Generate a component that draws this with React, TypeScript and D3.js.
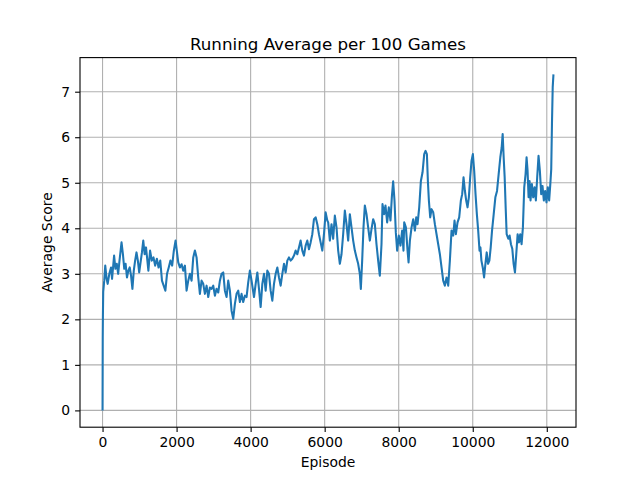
import React, { useEffect, useRef } from "react";
import * as d3 from "d3";

// running average, episode by episode
const episodes = [
  0, 5, 10, 18, 46, 73, 110, 138, 183, 229, 257, 312, 348, 385, 422, 458, 513, 550, 587, 623, 660,
  697, 734, 770, 807, 844, 880, 917, 954, 990, 1027, 1064, 1100, 1137, 1174, 1211, 1238, 1284, 1330,
  1376, 1421, 1467, 1513, 1559, 1605, 1651, 1697, 1742, 1788, 1834, 1880, 1926, 1972,
  2045, 2090, 2135, 2180, 2225, 2270, 2315, 2360, 2405, 2450, 2495, 2540, 2585, 2630, 2675, 2720,
  2765, 2810, 2855, 2900, 2945, 2990, 3035, 3080, 3125, 3170, 3215, 3260, 3305, 3350, 3395, 3440,
  3485, 3530, 3575, 3620, 3665, 3710, 3755, 3800, 3845, 3890, 3935, 3980, 4025,
  4091, 4136, 4181, 4226, 4271, 4316, 4361, 4406, 4451, 4496, 4541, 4586, 4631, 4676, 4721, 4766,
  4811, 4856, 4901, 4946, 4991, 5036, 5081, 5126, 5171, 5216, 5261, 5306, 5351, 5396, 5441, 5486,
  5531, 5576, 5621, 5666, 5711, 5756, 5801, 5846, 5891, 5936, 5981, 6026, 6071,
  6095, 6140, 6185, 6230, 6275, 6320, 6365, 6410, 6455, 6500, 6545, 6590, 6635, 6680, 6725, 6770,
  6815, 6860, 6905, 6950, 6977, 7013, 7049, 7085, 7130, 7175, 7220, 7265, 7310, 7355, 7400, 7445,
  7490, 7535, 7562, 7607, 7643, 7688, 7733, 7778, 7814, 7850, 7886, 7922, 7958, 8003, 8048, 8093, 8129,
  8149, 8194, 8239, 8266, 8302, 8347, 8392, 8437, 8473, 8509, 8554, 8599, 8644, 8689, 8725, 8761,
  8788, 8815, 8851, 8887, 8932, 8977, 9022, 9067, 9112, 9157, 9202, 9247, 9292, 9337, 9382, 9427,
  9472, 9508, 9544, 9589, 9634, 9679, 9715, 9751, 9787, 9823, 9859, 9895, 9931, 9967, 10003, 10039,
  10075, 10111, 10147, 10183,
  10207, 10234, 10270, 10306, 10342, 10377, 10413, 10449, 10485, 10521, 10566, 10611, 10656, 10700,
  10745, 10781, 10808, 10835, 10862, 10889, 10916, 10960, 10996, 11032, 11068, 11104, 11140, 11176,
  11212, 11248, 11283, 11319, 11355, 11391, 11427, 11454, 11481, 11508, 11535, 11561, 11597, 11633,
  11669, 11705, 11741, 11777, 11813, 11849, 11884, 11920, 11956, 11992, 12028, 12064, 12095, 12120,
  12140, 12160, 12180,
];

const scores = [
  0, 1.6, 2.1, 2.6, 2.85, 3.18, 2.89, 2.78, 3.0, 3.14, 2.89, 3.4, 3.11, 3.22, 3.0, 3.29, 3.69, 3.43,
  3.11, 3.22, 2.92, 3.07, 3.14, 2.96, 2.67, 3.07, 3.29, 3.47, 3.29, 3.03, 3.25, 3.47, 3.73, 3.43,
  3.58, 3.29, 3.07, 3.51, 3.29, 3.36, 3.18, 3.33, 3.14, 3.29, 2.85, 2.74, 2.63, 3.0, 3.14, 3.29,
  3.18, 3.51, 3.73,
  3.25, 3.14, 3.21, 3.07, 3.18, 2.63, 2.85, 3.0, 2.85, 3.36, 3.51, 3.36, 2.92, 2.56, 2.85, 2.78,
  2.56, 2.74, 2.49, 2.7, 2.67, 2.74, 2.52, 2.67, 2.59, 2.85, 3.0, 3.03, 2.63, 2.49, 2.85, 2.63,
  2.19, 2.01, 2.34, 2.56, 2.63, 2.38, 2.56, 2.38, 2.52, 2.49, 2.81, 3.07, 2.85,
  2.49, 2.78, 3.03, 2.67, 2.27, 2.78, 3.0, 2.63, 3.07, 3.0, 2.63, 2.41, 2.78, 3.0, 3.14, 2.92,
  2.74, 3.0, 3.22, 3.03, 3.29, 3.36, 3.29, 3.33, 3.4, 3.51, 3.43, 3.58, 3.73, 3.51, 3.4, 3.62,
  3.73, 3.54, 3.69, 3.87, 4.2, 4.24, 4.09, 3.87, 3.69, 3.51, 3.87, 4.35, 4.17,
  4.13, 3.73, 4.09, 3.77, 4.28, 4.02, 3.51, 3.22, 3.43, 3.87, 4.39, 4.09, 3.73, 4.31, 4.02, 3.73,
  3.51, 3.36, 3.22, 3.0, 2.67, 3.29, 4.02, 4.5, 4.31, 4.02, 3.73, 3.98, 4.2, 4.09, 3.65, 3.29,
  2.96, 3.65, 4.53, 4.31, 4.5, 4.13, 4.46, 4.17, 4.68, 5.03, 4.61, 3.91, 3.51, 3.84, 3.62, 3.95, 3.51,
  4.13, 4.02, 3.51, 3.25, 3.73, 4.02, 4.2, 3.95, 4.24, 4.09, 4.46, 5.04, 5.23, 5.63, 5.7, 5.63,
  5.04, 4.61, 4.24, 4.42, 4.35, 4.09, 3.87, 3.65, 3.43, 3.14, 2.85, 2.74, 2.92, 2.74, 3.29, 3.95,
  3.84, 4.17, 3.87, 4.13, 4.24, 4.61, 4.75, 5.12, 4.83, 4.61, 4.46, 4.68, 5.12, 5.48, 5.63, 5.26,
  4.75, 4.31, 3.95, 3.51,
  3.58, 3.29, 3.14, 2.92, 3.22, 3.47, 3.22, 3.29, 3.58, 3.95, 4.31, 4.68, 4.82, 5.19,
  5.56, 5.77, 6.07, 5.56, 5.12, 4.46, 3.87, 3.77, 3.84, 3.65, 3.55, 3.22, 3.03, 3.44,
  3.87, 3.69, 3.87, 3.65, 4.02, 4.9, 5.19, 5.56, 5.26, 4.68, 5.04, 4.61, 4.97, 4.68,
  4.9, 4.61, 5.12, 5.59, 5.26, 4.75, 4.93, 4.61, 4.82, 4.57, 4.9, 4.61, 4.97, 5.3,
  6.3, 7.1, 7.38,
];

const xTicks = [0, 2000, 4000, 6000, 8000, 10000, 12000];
const yTicks = [0, 1, 2, 3, 4, 5, 6, 7];

export default function App() {
  const chartRef = useRef<SVGSVGElement>(null);

  useEffect(() => {
    if (!chartRef.current) return;
    const svg = d3.select(chartRef.current);
    svg.selectAll("*").remove();

    // matplotlib default axes box for a 640x480 figure
    const left = 80, right = 576, top = 57.6, bottom = 427.2;
    const font = "DejaVu Sans, sans-serif";

    const [xMin, xMax] = d3.extent(episodes) as [number, number];
    const [yMin, yMax] = d3.extent(scores) as [number, number];
    const xPad = (xMax - xMin) * 0.05;
    const yPad = (yMax - yMin) * 0.05;

    const x = d3.scaleLinear().domain([xMin - xPad, xMax + xPad]).range([left, right]);
    const y = d3.scaleLinear().domain([yMin - yPad, yMax + yPad]).range([bottom, top]);

    svg.append("rect").attr("width", 640).attr("height", 480).attr("fill", "white");

    // grid
    svg.append("g")
      .selectAll("line")
      .data(xTicks)
      .enter()
      .append("line")
      .attr("x1", (d) => x(d)).attr("x2", (d) => x(d))
      .attr("y1", top).attr("y2", bottom)
      .attr("stroke", "#b0b0b0").attr("stroke-width", 1.1);
    svg.append("g")
      .selectAll("line")
      .data(yTicks)
      .enter()
      .append("line")
      .attr("y1", (d) => y(d)).attr("y2", (d) => y(d))
      .attr("x1", left).attr("x2", right)
      .attr("stroke", "#b0b0b0").attr("stroke-width", 1.1);

    // the running average line
    const pts = episodes.map((e, i) => [e, scores[i]] as [number, number]);
    const line = d3.line<[number, number]>().x((d) => x(d[0])).y((d) => y(d[1]));
    svg.append("path")
      .attr("d", line(pts) || "")
      .attr("fill", "none")
      .attr("stroke", "#1f77b4")
      .attr("stroke-width", 2.08)
      .attr("stroke-linejoin", "round");

    // axes
    const xAxis = svg.append("g")
      .attr("transform", `translate(0,${bottom})`)
      .call(d3.axisBottom(x).tickValues(xTicks).tickFormat(d3.format("d")).tickSize(4.9).tickPadding(4.9));
    const yAxis = svg.append("g")
      .attr("transform", `translate(${left},0)`)
      .call(d3.axisLeft(y).tickValues(yTicks).tickFormat(d3.format("d")).tickSize(4.9).tickPadding(4.9));
    [xAxis, yAxis].forEach((g) => {
      g.select(".domain").remove();
      g.selectAll("line").attr("stroke", "black").attr("stroke-width", 1.1);
      g.selectAll("text").style("font-family", font).style("font-size", "13.9px").attr("fill", "black");
    });

    // frame
    svg.append("rect")
      .attr("x", left).attr("y", top)
      .attr("width", right - left).attr("height", bottom - top)
      .attr("fill", "none").attr("stroke", "black").attr("stroke-width", 1.1);

    // labels
    svg.append("text")
      .attr("x", (left + right) / 2).attr("y", 50)
      .attr("text-anchor", "middle")
      .style("font-family", font).style("font-size", "16.7px")
      .text("Running Average per 100 Games");
    svg.append("text")
      .attr("x", (left + right) / 2).attr("y", 467)
      .attr("text-anchor", "middle")
      .style("font-family", font).style("font-size", "13.9px")
      .text("Episode");
    svg.append("text")
      .attr("transform", `translate(52,${(top + bottom) / 2}) rotate(-90)`)
      .attr("text-anchor", "middle")
      .style("font-family", font).style("font-size", "13.9px")
      .text("Average Score");
  }, []);

  return (
    <svg
      ref={chartRef}
      width={640}
      height={480}
      style={{ position: "absolute", left: 0, top: 0, display: "block" }}
    ></svg>
  );
}
